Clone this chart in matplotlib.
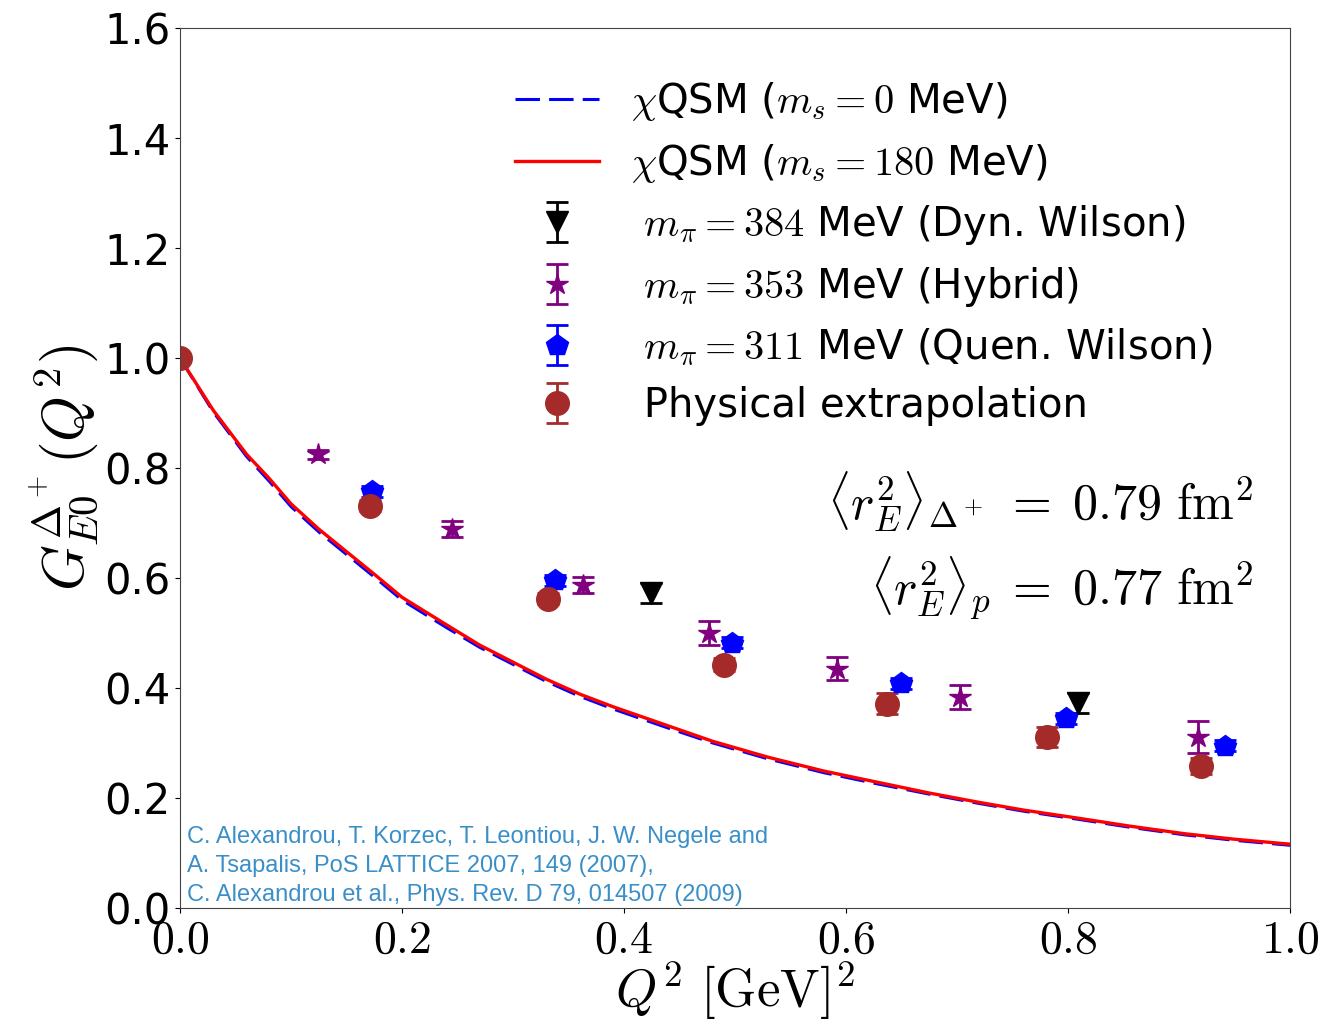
import matplotlib
matplotlib.use("Agg")
import matplotlib.pyplot as plt

plt.rcParams["mathtext.fontset"] = "cm"
plt.rcParams["font.family"] = "DejaVu Sans"

# chiral quark-soliton model curves
q2_model = [0.0, 0.03, 0.06, 0.08, 0.10, 0.125, 0.15, 0.175, 0.20, 0.24, 0.27,
            0.30, 0.33, 0.36, 0.39, 0.42, 0.44, 0.48, 0.53, 0.58, 0.625, 0.675,
            0.72, 0.76, 0.81, 0.855, 0.905, 0.95, 1.0]
g_ms180 = [1.0, 0.905, 0.825, 0.782, 0.735, 0.689, 0.648, 0.607, 0.565, 0.515,
           0.478, 0.447, 0.416, 0.389, 0.366, 0.345, 0.331, 0.303, 0.274, 0.249,
           0.230, 0.209, 0.192, 0.178, 0.163, 0.149, 0.135, 0.125, 0.116]
g_ms0 = [1.0, 0.902, 0.821, 0.777, 0.730, 0.684, 0.643, 0.602, 0.560, 0.510,
         0.474, 0.443, 0.412, 0.385, 0.362, 0.341, 0.327, 0.300, 0.271, 0.246,
         0.227, 0.207, 0.190, 0.176, 0.161, 0.147, 0.133, 0.123, 0.114]

# lattice results
q2_dyn = [0.424, 0.809]
g_dyn = [0.572, 0.372]
err_dyn = [0.018, 0.018]

q2_hyb = [0.124, 0.245, 0.363, 0.477, 0.592, 0.703, 0.917]
g_hyb = [0.825, 0.689, 0.587, 0.500, 0.435, 0.384, 0.311]
err_hyb = [0.008, 0.014, 0.015, 0.022, 0.021, 0.022, 0.029]

q2_quen = [0.173, 0.338, 0.497, 0.650, 0.798, 0.941]
g_quen = [0.758, 0.596, 0.482, 0.409, 0.345, 0.295]
err_quen = [0.010, 0.010, 0.010, 0.010, 0.010, 0.010]

q2_phys = [0.0, 0.171, 0.332, 0.490, 0.637, 0.781, 0.920]
g_phys = [1.0, 0.731, 0.562, 0.442, 0.371, 0.311, 0.258]
err_phys = [0.0, 0.010, 0.010, 0.012, 0.019, 0.018, 0.015]

xticks = [0.0, 0.2, 0.4, 0.6, 0.8, 1.0]
yticks = [0.0, 0.2, 0.4, 0.6, 0.8, 1.0, 1.2, 1.4, 1.6]

fig = plt.figure(figsize=(13.28, 10.27), dpi=100)
ax = fig.add_axes([0.1355, 0.1159, 0.8359, 0.8568])

ax.plot(q2_model, g_ms0, color="blue", lw=2.2, dashes=(8, 3),
        label=r"$\chi$QSM ($m_s = 0$ MeV)")
ax.plot(q2_model, g_ms180, color="red", lw=2.4,
        label=r"$\chi$QSM ($m_s = 180$ MeV)")

eb = dict(ls="none", elinewidth=2, capsize=8, capthick=2)
ax.errorbar(q2_dyn, g_dyn, yerr=err_dyn, fmt="v", color="black", ms=16,
            label=r" $m_\pi = 384$ MeV (Dyn. Wilson)", **eb)
ax.errorbar(q2_hyb, g_hyb, yerr=err_hyb, fmt="*", color="purple", ms=16,
            label=r" $m_\pi = 353$ MeV (Hybrid)", **eb)
ax.errorbar(q2_quen, g_quen, yerr=err_quen, fmt="p", color="blue", ms=16,
            label=r" $m_\pi = 311$ MeV (Quen. Wilson)", **eb)
ax.errorbar(q2_phys, g_phys, yerr=err_phys, fmt="o", color="brown", ms=17,
            label=" Physical extrapolation", **eb)

ax.set_xlim(0, 1.0)
ax.set_ylim(0, 1.6)
ax.set_xticks(xticks)
ax.set_xticklabels([r"$%.1f$" % t for t in xticks], fontsize=33)
ax.set_yticks(yticks)
ax.set_yticklabels(["%.1f" % t for t in yticks], fontsize=30)
for s in ax.spines.values():
    s.set_color("#444444")

ax.set_xlabel(r"$Q^2\ [\mathrm{GeV}]^2$", fontsize=38, labelpad=-2)
ax.set_ylabel(r"$G_{E0}^{\Delta^+}(Q^2)$", fontsize=42, labelpad=2)

ax.text(0.967, 0.738,
        r"$\langle r_E^2\rangle_{\Delta^+}\;=\;0.79\ \mathrm{fm}^2$",
        fontsize=36, ha="right", va="center")
ax.text(0.967, 0.582,
        r"$\langle r_E^2\rangle_{p}\;=\;0.77\ \mathrm{fm}^2$",
        fontsize=36, ha="right", va="center")

ax.text(0.006, 0.093,
        "C. Alexandrou, T. Korzec, T. Leontiou, J. W. Negele and\n"
        "A. Tsapalis, PoS LATTICE 2007, 149 (2007),\n"
        "C. Alexandrou et al., Phys. Rev. D 79, 014507 (2009)",
        transform=ax.transAxes, fontsize=17, family="Liberation Sans",
        color="#3a8fc8", ha="left", va="top", linespacing=1.4)

ax.legend(loc="upper left", bbox_to_anchor=(0.287, 0.9587), frameon=False,
          fontsize=29, handlelength=2.1, labelspacing=0.45, borderaxespad=0)

fig.savefig("out.png", dpi=100)
